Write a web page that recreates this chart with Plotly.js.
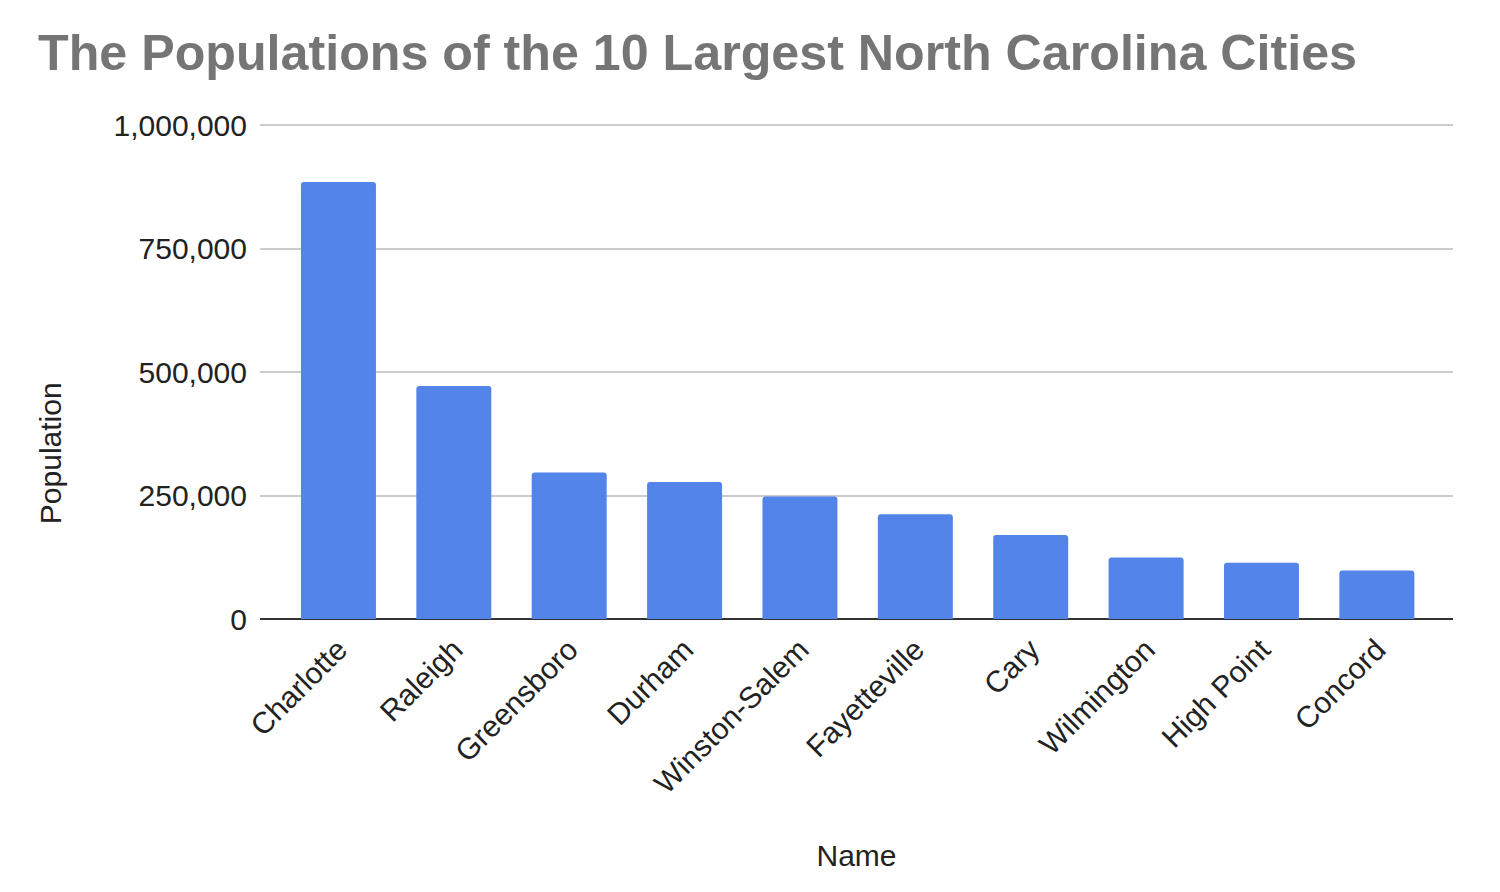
<!DOCTYPE html>
<html>
<head>
<meta charset="utf-8">
<script src="https://cdn.plot.ly/plotly-3.0.1.min.js"></script>
<style>html,body{margin:0;padding:0;background:#fff;}#chart{width:1500px;height:892px;}</style>
</head>
<body>
<div id="chart"></div>
<script>
const cities = ["Charlotte", "Raleigh", "Greensboro", "Durham", "Winston-Salem", "Fayetteville", "Cary", "Wilmington", "High Point", "Concord"];
const population = [885700, 472000, 297000, 277500, 248000, 212000, 170300, 124500, 114000, 98500];
const yTicks = [0, 250000, 500000, 750000, 1000000];
const yTickLabels = ["0", "250,000", "500,000", "750,000", "1,000,000"];

const FONT = "Liberation Sans, Arial, sans-serif";

const trace = {
  type: "bar",
  x: cities,
  y: population,
  marker: {color: "#5384EA", cornerradius: 3},
  hoverinfo: "x+y"
};

const layout = {
  width: 1500,
  height: 892,
  margin: {l: 260, r: 47, t: 122.5, b: 273},
  paper_bgcolor: "#ffffff",
  plot_bgcolor: "#ffffff",
  bargap: 0.35,
  showlegend: false,
  title: {
    text: "<b>The Populations of the 10 Largest North Carolina Cities</b>",
    font: {family: FONT, size: 50.2, color: "#757575"},
    x: 38/1500, xref: "container", xanchor: "left",
    y: 1 - 52/892, yref: "container", yanchor: "middle"
  },
  xaxis: {
    type: "category",
    range: [-0.68, 9.66],
    tickangle: -45,
    tickfont: {family: FONT, size: 30, color: "#222222"},
    ticklabelstandoff: 6,
    showgrid: false,
    showline: false,
    ticks: "",
    zeroline: false,
    title: {text: "Name", font: {family: FONT, size: 30, color: "#222222"}, standoff: 46},
    automargin: false
  },
  yaxis: {
    range: [0, 1005000],
    tickvals: yTicks,
    ticktext: yTickLabels,
    tickfont: {family: FONT, size: 30, color: "#222222"},
    showgrid: true,
    gridcolor: "#cccccc",
    gridwidth: 2,
    zeroline: true,
    zerolinecolor: "#333333",
    zerolinewidth: 2,
    showline: false,
    ticks: "",
    ticklabelstandoff: 12,
    automargin: false
  },
  annotations: [{
    text: "Population",
    xref: "paper", yref: "paper",
    x: 0, y: (619 - 453) / 496.5,
    xanchor: "center", yanchor: "middle",
    xshift: -210,
    textangle: -90,
    showarrow: false,
    font: {family: FONT, size: 30, color: "#222222"}
  }]
};

Plotly.newPlot("chart", [trace], layout, {displayModeBar: false});
</script>
</body>
</html>
